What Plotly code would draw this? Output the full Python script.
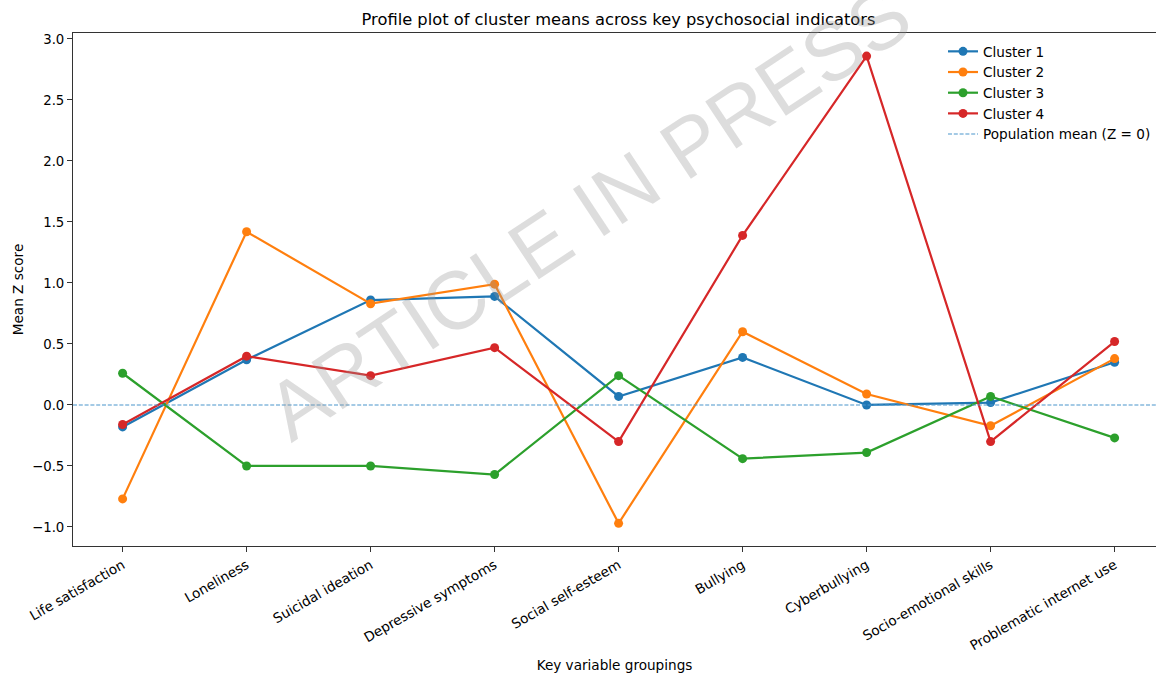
import plotly.graph_objects as go

# Key psychosocial indicators (x categories)
variables = [
    "Life satisfaction", "Loneliness", "Suicidal ideation", "Depressive symptoms",
    "Social self-esteem", "Bullying", "Cyberbullying", "Socio-emotional skills",
    "Problematic internet use",
]

# Mean Z scores per cluster
cluster_1 = [-0.18, 0.37, 0.86, 0.89, 0.07, 0.39, 0.00, 0.02, 0.35]
cluster_2 = [-0.77, 1.42, 0.83, 0.99, -0.97, 0.60, 0.09, -0.17, 0.38]
cluster_3 = [0.26, -0.50, -0.50, -0.57, 0.24, -0.44, -0.39, 0.07, -0.27]
cluster_4 = [-0.16, 0.40, 0.24, 0.47, -0.30, 1.39, 2.86, -0.30, 0.52]

series_names = ["Cluster 1", "Cluster 2", "Cluster 3", "Cluster 4"]
series_values = [cluster_1, cluster_2, cluster_3, cluster_4]
colors = ["#1f77b4", "#ff7f0e", "#2ca02c", "#d62728"]

y_tick_vals = [-1.0, -0.5, 0.0, 0.5, 1.0, 1.5, 2.0, 2.5, 3.0]
y_tick_text = ["\u22121.0", "\u22120.5", "0.0", "0.5", "1.0", "1.5", "2.0", "2.5", "3.0"]

population_mean = 0.0

FONT = "DejaVu Sans"
W, H = 1156, 673
ML, MR, MT, MB = 73, 0, 33, 127
PW, PH = W - ML - MR, H - MT - MB

x_idx = list(range(len(variables)))
x_range = [-0.4, -0.4 + PW / 124.0]
y_range = [-1.156, 3.049]

fig = go.Figure()

for name, vals, col in zip(series_names, series_values, colors):
    fig.add_trace(go.Scatter(
        x=x_idx, y=vals, name=name, mode="lines+markers",
        line=dict(color=col, width=2.2),
        marker=dict(color=col, size=9),
    ))

fig.add_trace(go.Scatter(
    x=x_range, y=[population_mean, population_mean],
    name="Population mean (Z = 0)", mode="lines",
    line=dict(color="#4b95cc", width=1.1, dash="4px,1.8px"),
))

# diagonal watermark
fig.add_annotation(
    text="ARTICLE IN PRESS", xref="paper", yref="paper",
    x=(588 - ML) / PW, y=(H - MB - 212) / PH,
    xanchor="center", yanchor="middle", textangle=-33.5,
    showarrow=False,
    font=dict(family="Liberation Sans", size=82, color="rgba(150,150,150,0.32)"),
)

fig.update_layout(
    width=W, height=H,
    margin=dict(l=ML, r=MR, t=MT, b=MB, autoexpand=False),
    paper_bgcolor="white", plot_bgcolor="white",
    font=dict(family=FONT, size=13.5, color="black"),
    title=dict(
        text="Profile plot of cluster means across key psychosocial indicators",
        x=618.5 / W, xanchor="center", y=1 - 19 / H, yanchor="middle",
        font=dict(family=FONT, size=16.3, color="black"),
    ),
    legend=dict(
        x=(943 - ML) / PW, y=(H - MB - 36) / PH,
        xanchor="left", yanchor="top",
        bgcolor="rgba(255,255,255,0)", borderwidth=0,
        font=dict(family=FONT, size=13.6, color="black"),
        tracegroupgap=0, itemwidth=30,
    ),
    showlegend=True,
)

fig.update_xaxes(
    range=x_range, tickmode="array", tickvals=x_idx, ticktext=variables,
    tickangle=-30, ticks="outside", ticklen=5, tickwidth=1, tickcolor="#333",
    showline=True, linecolor="#333", linewidth=1, mirror=True,
    showgrid=False, zeroline=False, automargin=False,
    tickfont=dict(family=FONT, size=13.6, color="black"),
    title=dict(text="Key variable groupings", standoff=12,
               font=dict(family=FONT, size=13.6, color="black")),
)
fig.update_yaxes(
    range=y_range, tickmode="array", tickvals=y_tick_vals, ticktext=y_tick_text,
    ticks="outside", ticklen=5, tickwidth=1, tickcolor="#333",
    showline=True, linecolor="#333", linewidth=1, mirror=False,
    showgrid=False, zeroline=False, automargin=False,
    tickfont=dict(family=FONT, size=13.3, color="black"),
    title=dict(text="Mean Z score", standoff=5,
               font=dict(family=FONT, size=13.6, color="black")),
)

fig.write_html("out.html")
